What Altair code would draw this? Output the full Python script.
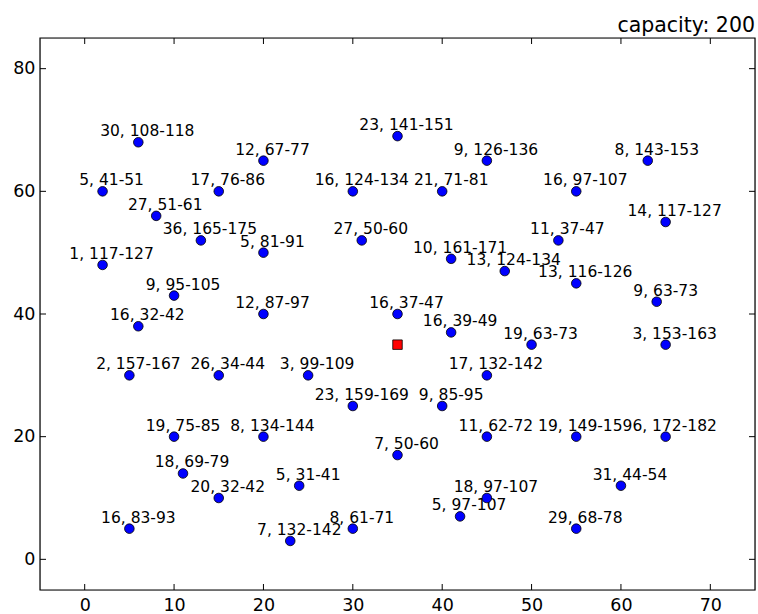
import altair as alt
import pandas as pd

xs = [6, 20, 35, 45, 63, 2, 15, 30, 40, 55, 65, 8, 13, 20, 31, 53, 41, 47, 55, 64,
      2, 10, 20, 35, 6, 41, 50, 65, 5, 15, 25, 45, 30, 40, 10, 20, 45, 55, 65, 35,
      11, 24, 15, 60, 45, 42, 5, 23, 30, 55]
ys = [68, 65, 69, 65, 65, 60, 60, 60, 60, 60, 55, 56, 52, 50, 52, 52, 49, 47, 45, 42,
      48, 43, 40, 40, 38, 37, 35, 35, 30, 30, 30, 30, 25, 25, 20, 20, 20, 20, 20, 17,
      14, 12, 10, 12, 10, 7, 5, 3, 5, 5]
demand = [30, 12, 23, 9, 8, 5, 17, 16, 21, 16, 14, 27, 36, 5, 27, 11, 10, 13, 13, 9,
          1, 9, 12, 16, 16, 16, 19, 3, 2, 26, 3, 17, 23, 9, 19, 8, 11, 19, 6, 7,
          18, 5, 20, 31, 18, 5, 16, 7, 8, 29]
ready = [108, 67, 141, 126, 143, 41, 76, 124, 71, 97, 117, 51, 165, 81, 50, 37, 161, 124, 116, 63,
         117, 95, 87, 37, 32, 39, 63, 153, 157, 34, 99, 132, 159, 85, 75, 134, 62, 149, 172, 50,
         69, 31, 32, 44, 97, 97, 83, 132, 61, 68]
due = [118, 77, 151, 136, 153, 51, 86, 134, 81, 107, 127, 61, 175, 91, 60, 47, 171, 134, 126, 73,
       127, 105, 97, 47, 42, 49, 73, 163, 167, 44, 109, 142, 169, 95, 85, 144, 72, 159, 182, 60,
       79, 41, 42, 54, 107, 107, 93, 142, 71, 78]
depot_x = [35]
depot_y = [35]
x_ticks = [0, 10, 20, 30, 40, 50, 60, 70]
y_ticks = [0, 20, 40, 60, 80]
title_text = "capacity: 200"

W, H = 715, 552
FONT = "DejaVu Sans"

cust = pd.DataFrame({
    "x": xs, "y": ys,
    "label": [f"{d}, {r}-{e}" for d, r, e in zip(demand, ready, due)],
})
depot = pd.DataFrame({"x": depot_x, "y": depot_y})
xt = pd.DataFrame({"v": x_ticks})
yt = pd.DataFrame({"v": y_ticks})
ttl = pd.DataFrame({"t": [title_text]})

xsc = alt.Scale(domain=[-5, 75], nice=False, zero=False)
ysc = alt.Scale(domain=[-5, 85], nice=False, zero=False)

xaxis = alt.Axis(values=x_ticks, ticks=False, domain=False, grid=False, labelFontSize=17.5,
                 labelFont=FONT, labelColor="black", labelPadding=6, title=None)
yaxis = alt.Axis(values=y_ticks, ticks=False, domain=False, grid=False, labelFontSize=17.5,
                 labelFont=FONT, labelColor="black", labelPadding=5, title=None)

points = alt.Chart(cust).mark_point(
    shape="circle", filled=True, fill="#0000ff", stroke="black", strokeWidth=0.8,
    size=92, opacity=1
).encode(
    x=alt.X("x:Q", scale=xsc, axis=xaxis),
    y=alt.Y("y:Q", scale=ysc, axis=yaxis),
)

labels = alt.Chart(cust).mark_text(
    font=FONT, fontSize=15.5, color="black", align="center", baseline="alphabetic",
    dx=9, dy=-6
).encode(
    x=alt.X("x:Q", scale=xsc),
    y=alt.Y("y:Q", scale=ysc),
    text="label:N",
)

dep = alt.Chart(depot).mark_point(
    shape="square", filled=True, fill="#ff0000", stroke="black", strokeWidth=0.8,
    size=90, opacity=1
).encode(
    x=alt.X("x:Q", scale=xsc),
    y=alt.Y("y:Q", scale=ysc),
)

tick_len = 6
xb = alt.Chart(xt).mark_rule(color="black", strokeWidth=1).encode(
    x=alt.X("v:Q", scale=xsc), y=alt.value(H), y2=alt.value(H - tick_len))
xtop = alt.Chart(xt).mark_rule(color="black", strokeWidth=1).encode(
    x=alt.X("v:Q", scale=xsc), y=alt.value(0), y2=alt.value(tick_len))
yl = alt.Chart(yt).mark_rule(color="black", strokeWidth=1).encode(
    y=alt.Y("v:Q", scale=ysc), x=alt.value(0), x2=alt.value(tick_len))
yr = alt.Chart(yt).mark_rule(color="black", strokeWidth=1).encode(
    y=alt.Y("v:Q", scale=ysc), x=alt.value(W), x2=alt.value(W - tick_len))

frame = alt.Chart(ttl).mark_rect(fill=None, stroke="black", strokeWidth=1.2).encode(
    x=alt.value(0), x2=alt.value(W), y=alt.value(0), y2=alt.value(H))

title = alt.Chart(ttl).mark_text(
    font=FONT, fontSize=20.5, color="black", align="right", baseline="alphabetic"
).encode(x=alt.value(W), y=alt.value(-6), text="t:N")

chart = alt.layer(frame, xb, xtop, yl, yr, labels, points, dep, title).properties(
    width=W, height=H,
    autosize=alt.AutoSizeParams(type="none"),
    padding={"left": 40, "top": 38, "right": 3, "bottom": 24},
).configure_view(stroke=None).configure(background="white")

chart.save("out.html", embed_options={"renderer": "svg", "actions": False})
